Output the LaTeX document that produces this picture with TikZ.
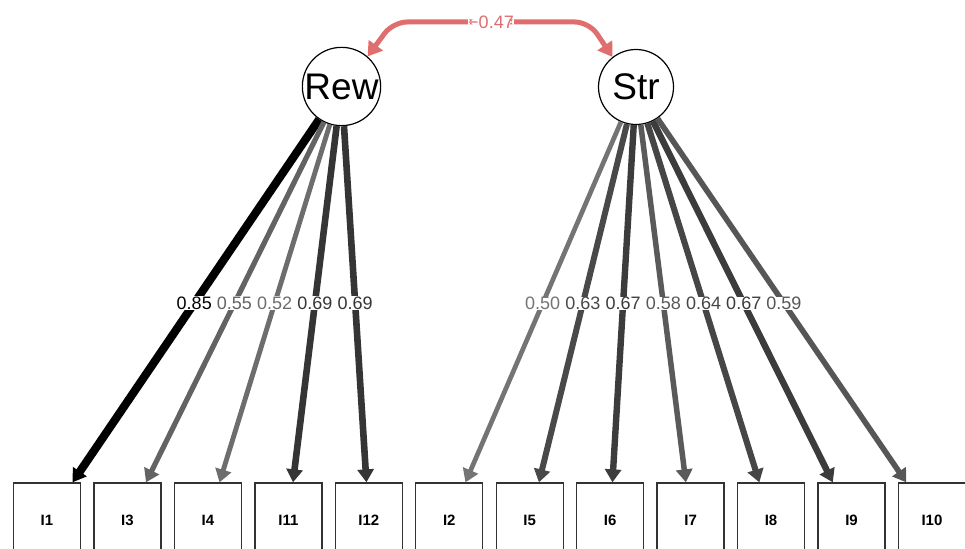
\documentclass[tikz,border=0pt]{standalone}
\usepackage{fontspec}
\setmainfont{Liberation Sans}
\usetikzlibrary{arrows.meta,calc}
\definecolor{covred}{HTML}{E06E6E}
\tikzset{
  lat/.style={circle,draw=black,line width=1.2pt,minimum size=75pt,inner sep=0pt,fill=white,font=\fontsize{37}{40}\selectfont},
  man/.style={rectangle,draw=black!80,line width=1.3pt,minimum width=67pt,minimum height=74pt,inner sep=0pt,fill=white,font=\bfseries\fontsize{15}{18}\selectfont},
  load/.style={-{Triangle[length=13pt,width=16pt]}},
  lbl/.style={fill=white,inner sep=0.5pt,font=\fontsize{18}{20}\selectfont},
  cov/.style={{Triangle[length=14pt,width=17pt]}-{Triangle[length=14pt,width=17pt]},draw=covred,line width=5pt,rounded corners=14pt},
  covlbl/.style={fill=white,inner sep=0pt,text=covred,font=\fontsize{18}{20}\selectfont}
}
\begin{document}
\begin{tikzpicture}[x=1pt,y=-1pt]
\useasboundingbox (0,0) rectangle (965,548);
\clip (0,0) rectangle (965,548);
% latent variables
\node[lat] (Rew) at (341.5,86.5) {Rew};
\node[lat] (Str) at (636,87) {Str};
% indicators
\foreach \nm [count=\i from 0] in {I1,I3,I4,I11,I12,I2,I5,I6,I7,I8,I9,I10}{
  \node[man] (\nm) at ({47+80.45*\i},520) {\nm};
}
% loadings
\foreach \lt/\ind/\w in {Rew/I1/0.85,Rew/I3/0.55,Rew/I4/0.52,Rew/I11/0.69,Rew/I12/0.69,
  Str/I2/0.50,Str/I5/0.63,Str/I6/0.67,Str/I7/0.58,Str/I8/0.64,Str/I9/0.67,Str/I10/0.59}{
  \pgfmathsetmacro\lwd{\w*10-0.3}
  \pgfmathsetmacro\shade{100*(1-(0.85-\w)*1.3)}
  \draw[load,line width=\lwd pt,draw=black!\shade,fill=black!\shade] (\lt) -- (\ind);
  \node[lbl,text=black!\shade] at ($(\lt)!0.5!(\ind)$) {\w};
}
% covariance
\coordinate (c1) at (393,22);
\coordinate (c2) at (589,22);
\draw[cov] (Rew.49) -- (c1) -- node[covlbl]{−0.47} (c2) -- (Str.128);
\end{tikzpicture}
\end{document}
